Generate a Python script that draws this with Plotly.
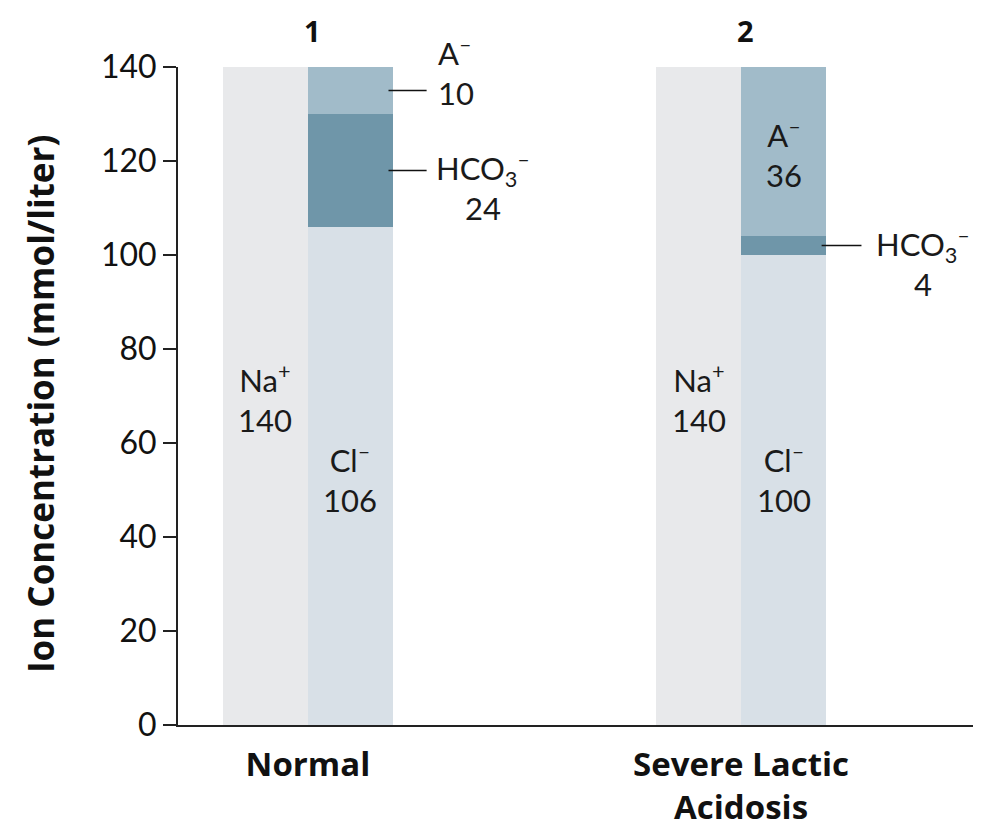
import plotly.graph_objects as go

groups = ["Normal", "Severe Lactic<br>Acidosis"]
panel_numbers = ["1", "2"]
na_values = [140, 140]
cl_values = [106, 100]
hco3_values = [24, 4]
a_values = [10, 36]
y_ticks = [0, 20, 40, 60, 80, 100, 120, 140]

colors = {"na": "#e8e9eb", "cl": "#d8e0e7", "hco3": "#6f96a9", "a": "#a1bbc9"}
FONT = "Lato"
BOLD = "Open Sans"
W = 0.196  # bar width in x units

gx = list(range(len(groups)))
na_x = [g - W / 2 for g in gx]
an_x = [g + W / 2 for g in gx]

fig = go.Figure()
fig.add_bar(x=na_x, y=na_values, width=W, marker=dict(color=colors["na"], line=dict(width=0)), hoverinfo="skip")
fig.add_bar(x=an_x, y=cl_values, width=W, marker=dict(color=colors["cl"], line=dict(width=0)), hoverinfo="skip")
fig.add_bar(x=an_x, y=hco3_values, width=W, marker=dict(color=colors["hco3"], line=dict(width=0)), hoverinfo="skip")
fig.add_bar(x=an_x, y=a_values, width=W, marker=dict(color=colors["a"], line=dict(width=0)), hoverinfo="skip")

txt = dict(family=FONT, size=31, color="#1a1a1a")
ann = []
for i, g in enumerate(gx):
    ann.append(dict(x=g + 0.01, y=1.0, yref="paper", yanchor="middle", yshift=37,
                    text="<b>%s</b>" % panel_numbers[i], showarrow=False,
                    font=dict(family=BOLD, size=29, color="#111")))
    ann.append(dict(x=na_x[i], y=69.5, text="Na<sup>+</sup><br>%d" % na_values[i],
                    showarrow=False, font=txt))
    ann.append(dict(x=an_x[i], y=52.5, text="Cl<sup>–</sup><br>%d" % cl_values[i], showarrow=False, font=txt))

shapes = []
line_style = dict(color="#111", width=1.5)
right0 = an_x[0] + W / 2
# Normal A-
ya = cl_values[0] + hco3_values[0] + a_values[0] / 2
shapes.append(dict(type="line", x0=right0 - 0.01, x1=right0 + 0.078, y0=ya, y1=ya, line=line_style))
ann.append(dict(x=right0 + 0.1, y=ya + 4, xanchor="left", text="A<sup>–</sup><br>%d" % a_values[0],
                showarrow=False, align="left", font=txt))
# Normal HCO3
yh = cl_values[0] + hco3_values[0] / 2
shapes.append(dict(type="line", x0=right0 - 0.01, x1=right0 + 0.078, y0=yh, y1=yh, line=line_style))
ann.append(dict(x=right0 + 0.095, y=yh - 3.5, xanchor="left",
                text="HCO<sub>3</sub><sup>–</sup><br>%d" % hco3_values[0],
                showarrow=False, align="center", font=txt))
# Severe A- inside bar
ann.append(dict(x=an_x[1], y=cl_values[1] + hco3_values[1] + a_values[1] / 2 - 0.5,
                text="A<sup>–</sup><br>%d" % a_values[1], showarrow=False, font=txt))
# Severe HCO3
right1 = an_x[1] + W / 2
yh2 = cl_values[1] + hco3_values[1] / 2
shapes.append(dict(type="line", x0=right1 - 0.01, x1=right1 + 0.082, y0=yh2, y1=yh2, line=line_style))
ann.append(dict(x=right1 + 0.11, y=yh2 - 3.5, xanchor="left",
                text="HCO<sub>3</sub><sup>–</sup><br>%d" % hco3_values[1],
                showarrow=False, align="center", font=txt))
# y-axis title
ann.append(dict(x=0, xref="paper", xshift=-138, xanchor="center", y=0.5, yref="paper", yanchor="middle",
                yshift=-8, textangle=-90,
                text="<b>Ion Concentration (mmol/liter)</b>", showarrow=False,
                font=dict(family=BOLD, size=35, color="#111")))

fig.update_layout(
    width=973, height=822,
    margin=dict(l=170, r=0, t=59, b=105),
    paper_bgcolor="white", plot_bgcolor="white",
    barmode="stack", bargap=0, showlegend=False,
    font=dict(family=FONT, color="#111"),
    annotations=ann, shapes=shapes,
    xaxis=dict(range=[-0.300, 1.554], tickvals=gx, ticktext=["<b>%s</b>" % g for g in groups],
               showline=True, linecolor="#222", linewidth=2, ticks="outside", ticklen=9,
               tickcolor="rgba(0,0,0,0)", showgrid=False, zeroline=False,
               tickfont=dict(family=BOLD, size=33, color="#111")),
    yaxis=dict(range=[0, 140], tickvals=y_ticks, showline=True,
               linecolor="#222", linewidth=2, ticks="outside", ticklen=13, tickwidth=1.5, tickcolor="#222",
               showgrid=False, zeroline=False, tickfont=dict(family=FONT, size=32, color="#111")),
)

fig.write_html("out.html")
